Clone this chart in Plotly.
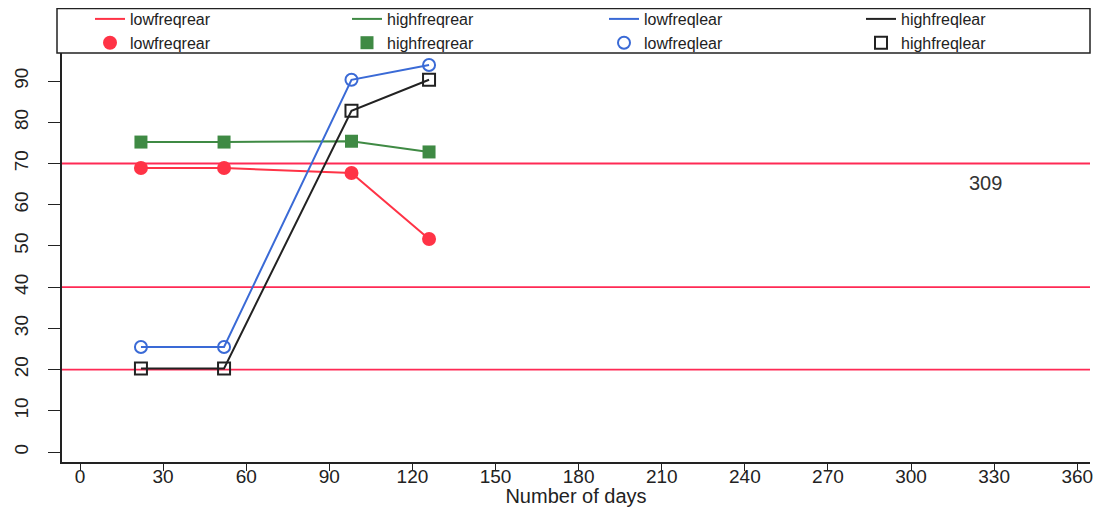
import plotly.graph_objects as go

days = [22, 52, 98, 126]
lowfreqrear = [68.9, 68.9, 67.7, 51.7]
highfreqrear = [75.2, 75.2, 75.4, 72.8]
lowfreqlear = [25.5, 25.5, 90.3, 93.9]
highfreqlear = [20.3, 20.3, 82.8, 90.3]

ref_levels = [20, 40, 70]
x_ticks = list(range(0, 361, 30))
y_ticks = list(range(0, 91, 10))
note_text = "309"
note_pos = (327, 65.3)

names = ["lowfreqrear", "highfreqrear", "lowfreqlear", "highfreqlear"]
series = [lowfreqrear, highfreqrear, lowfreqlear, highfreqlear]
colors = ["#ff3346", "#3f8a44", "#3a6ad6", "#222222"]
markers = [
    dict(symbol="circle", size=14, color="#ff3346"),
    dict(symbol="square", size=13, color="#3f8a44"),
    dict(symbol="circle-open", size=12, color="#3a6ad6", line=dict(width=2, color="#3a6ad6")),
    dict(symbol="square-open", size=12, color="#222222", line=dict(width=2, color="#222222")),
]

fig = go.Figure()
for n, s, c in zip(names, series, colors):
    fig.add_trace(go.Scatter(x=days, y=s, mode="lines", name=n,
                             line=dict(color=c, width=2)))
for n, s, m in zip(names, series, markers):
    fig.add_trace(go.Scatter(x=days, y=s, mode="markers", name=n, marker=m))

for lv in ref_levels:
    fig.add_shape(type="line", xref="paper", x0=0, x1=1, yref="y", y0=lv, y1=lv,
                  line=dict(color="#ff2a55", width=1.8), layer="below")

W, H = 1086, 499
ML, MR, MT, MB = 54, 4, 45, 45
plot_w = W - ML - MR
plot_h = H - MT - MB

# frame around the legend area (top band of the chart)
fig.add_shape(type="rect", xref="paper", yref="paper",
              x0=-5 / plot_w, x1=1.0, y0=1.0, y1=1 + (MT - 0.5) / plot_h,
              line=dict(color="#222222", width=1.5), fillcolor="rgba(0,0,0,0)")

fig.add_annotation(x=note_pos[0], y=note_pos[1], text=note_text, showarrow=False,
                   font=dict(size=20, color="#333333"))

fig.update_layout(
    width=W, height=H,
    margin=dict(l=ML, r=MR, t=MT, b=MB, autoexpand=False),
    paper_bgcolor="white", plot_bgcolor="white",
    font=dict(family="Liberation Sans, Arial, sans-serif", color="#222222"),
    showlegend=True,
    legend=dict(orientation="h", x=28 / plot_w, xanchor="left",
                y=1 + (MT + 6) / plot_h, yanchor="top",
                entrywidth=212, entrywidthmode="pixels",
                borderwidth=0, bgcolor="rgba(0,0,0,0)",
                font=dict(size=16), tracegroupgap=0, itemsizing="trace"),
    xaxis=dict(range=[-6.5, 364.6], tickvals=x_ticks, showgrid=False, zeroline=False,
               showline=True, linecolor="#222222", linewidth=2,
               ticks="outside", ticklen=7, tickcolor="#222222",
               tickfont=dict(size=19), ticklabelstandoff=-11,
               title=dict(text="Number of days", font=dict(size=20), standoff=11)),
    yaxis=dict(range=[-2.4, 96.8], tickvals=y_ticks, showgrid=False, zeroline=False,
               showline=True, linecolor="#222222", linewidth=2,
               ticks="outside", ticklen=12, tickcolor="#222222",
               tickangle=-90, tickfont=dict(size=19), ticklabelstandoff=12),
)

fig.write_html("out.html")
